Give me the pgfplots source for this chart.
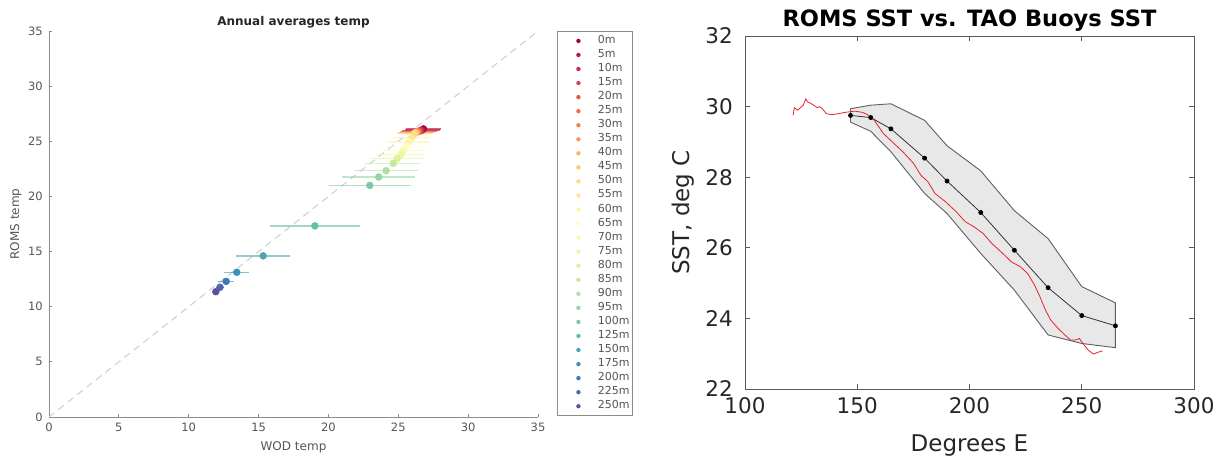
\documentclass[border=0pt]{standalone}
\usepackage{pgfplots}
\pgfplotsset{compat=1.18}
\usepackage{pgfplotstable}
\usepackage{fontspec}
\setmainfont{DejaVu Sans}

% Spectral ramp, one colour per depth level (0 m ... 250 m)
\definecolor{d0}{RGB}{158,1,66}
\definecolor{d1}{RGB}{179,24,71}
\definecolor{d2}{RGB}{200,48,76}
\definecolor{d3}{RGB}{218,69,77}
\definecolor{d4}{RGB}{230,87,73}
\definecolor{d5}{RGB}{242,105,68}
\definecolor{d6}{RGB}{247,129,76}
\definecolor{d7}{RGB}{250,154,88}
\definecolor{d8}{RGB}{253,178,100}
\definecolor{d9}{RGB}{253,197,116}
\definecolor{d10}{RGB}{254,216,133}
\definecolor{d11}{RGB}{254,231,151}
\definecolor{d12}{RGB}{255,243,171}
\definecolor{d13}{RGB}{255,255,191}
\definecolor{d14}{RGB}{245,251,176}
\definecolor{d15}{RGB}{236,247,161}
\definecolor{d16}{RGB}{221,241,154}
\definecolor{d17}{RGB}{198,232,158}
\definecolor{d18}{RGB}{176,223,163}
\definecolor{d19}{RGB}{150,213,164}
\definecolor{d20}{RGB}{123,202,165}
\definecolor{d21}{RGB}{98,190,167}
\definecolor{d22}{RGB}{78,167,176}
\definecolor{d23}{RGB}{58,145,185}
\definecolor{d24}{RGB}{60,123,183}
\definecolor{d25}{RGB}{77,101,172}
\definecolor{d26}{RGB}{94,79,162}

\definecolor{axisgray}{RGB}{140,140,140}
\definecolor{labelgray}{RGB}{85,85,85}
\definecolor{diaggray}{RGB}{205,205,205}
\definecolor{bandfill}{RGB}{232,232,232}
\definecolor{bandedge}{RGB}{95,95,95}
\definecolor{romsred}{RGB}{228,35,45}
\definecolor{boxgray}{RGB}{90,90,90}

% one depth level: colour, WOD mean, ROMS mean, WOD spread, legend text
\newcommand{\depthpoint}[5]{%
  \addplot[only marks, mark=*, mark size=3.5pt, color=#1,
    mark options={solid, fill=#1, draw=#1},
    error bars/x dir=both, error bars/x explicit,
    error bars/error mark=none,
    error bars/error bar style={line width=1.3pt, draw=#1, opacity=0.6},
    legend image code/.code={%
      \path[draw=none, fill=none] (-19pt,0pt) -- (19pt,0pt);
      \fill[#1, draw=none] (0pt,0pt) circle (2.2pt);}]
    coordinates {(#2,#3) +- (#4,0)};
  \addlegendentry{#5}}

% TAO buoy mean SST along the equator
\pgfplotstableread{
lon sst
147 29.75
156 29.69
165 29.37
180 28.54
190 27.89
205 27.00
220 25.93
235 24.87
250 24.08
265 23.79
}\taomean

% TAO spread envelope (upper edge east-going, lower edge back west)
\pgfplotstableread{
lon sst
147 29.94
156 30.04
165 30.08
180 29.61
190 28.89
205 28.18
220 27.05
235 26.26
250 24.90
265 24.44
265 23.17
250 23.29
235 23.53
220 24.80
205 25.84
190 26.97
180 27.54
165 28.72
156 29.30
147 29.56
147 29.94
}\taoband

% ROMS SST along the equator
\pgfplotstableread{
lon sst
121.4 29.75
122.0 29.97
123.3 29.90
124.8 29.97
126.0 30.05
127.1 30.22
127.9 30.13
129.0 30.10
130.6 30.04
132.2 29.97
133.2 30.00
134.6 29.93
136.2 29.80
138.6 29.77
141.7 29.80
144.9 29.84
148.9 29.87
152.1 29.84
154.4 29.78
157.6 29.61
161.6 29.24
165.6 29.00
170.3 28.72
175.1 28.39
178.3 28.06
181.5 27.87
184.6 27.54
189.4 27.30
194.1 27.02
198.1 26.74
202.1 26.59
206.0 26.41
210.0 26.12
214.8 25.84
218.7 25.60
222.7 25.46
225.9 25.27
229.0 24.94
231.4 24.61
233.8 24.24
236.2 23.95
239.4 23.72
242.5 23.53
244.9 23.39
247.3 23.39
248.9 23.43
250.5 23.29
252.9 23.10
255.2 22.99
256.8 23.03
259.2 23.08
}\romssst

\begin{document}
\begin{tikzpicture}
\useasboundingbox (0pt,0pt) rectangle (1221pt,457pt);

% ---------------- left panel: WOD vs ROMS by depth ----------------
\begin{axis}[
  at={(49pt,40pt)}, anchor=south west,
  scale only axis, width=489pt, height=386pt,
  xmin=0, xmax=35, ymin=0, ymax=35,
  axis x line*=bottom, axis y line*=left,
  axis line style={draw=axisgray, line width=0.9pt},
  tick align=inside, major tick length=3pt,
  tick style={draw=axisgray, line width=0.9pt},
  xtick={0,5,...,35}, ytick={0,5,...,35},
  /pgf/number format/assume math mode=true,
  ticklabel style={font=\fontsize{11.5}{12}\selectfont, text=labelgray, inner sep=3pt},
  xticklabel style={yshift=-3pt},
  yticklabel style={xshift=-3pt},
  xlabel={WOD temp}, ylabel={ROMS temp},
  label style={font=\fontsize{12}{13}\selectfont, text=labelgray},
  xlabel style={at={(axis description cs:0.5,0)}, anchor=center, yshift=-30pt},
  ylabel style={at={(axis description cs:0,0.5)}, anchor=center, yshift=33pt},
  title={Annual averages temp},
  title style={font=\bfseries\fontsize{12}{13}\selectfont, text=black!85,
    at={(axis description cs:0.5,1)}, anchor=center, yshift=3pt},
  legend style={at={(axis description cs:1.0389,1)}, anchor=north west,
    draw=axisgray, line width=0.8pt, fill=white,
    inner xsep=2pt, inner ysep=2.5pt, row sep=0pt, column sep=0pt,
    font=\fontsize{11}{12}\selectfont, text=labelgray,
    nodes={inner xsep=0.5pt, inner ysep=2pt, text height=7.5pt, text depth=2.55pt}},
  legend cell align=left,
  clip=false,
]
\addplot[diaggray, line width=1pt, dash pattern=on 7pt off 5pt, forget plot]
  coordinates {(0,0) (35,35)};
\depthpoint{d0}{26.80}{26.12}{1.25}{0m}
\depthpoint{d1}{26.70}{26.02}{1.25}{5m}
\depthpoint{d2}{26.60}{25.97}{1.25}{10m}
\depthpoint{d3}{26.50}{25.93}{1.25}{15m}
\depthpoint{d4}{26.45}{25.90}{1.25}{20m}
\depthpoint{d5}{26.40}{25.88}{1.20}{25m}
\depthpoint{d6}{26.35}{25.85}{1.20}{30m}
\depthpoint{d7}{26.30}{25.82}{1.20}{35m}
\depthpoint{d8}{26.25}{25.80}{1.20}{40m}
\depthpoint{d9}{26.20}{25.75}{1.20}{45m}
\depthpoint{d10}{26.15}{25.70}{1.25}{50m}
\depthpoint{d11}{25.94}{25.33}{1.30}{55m}
\depthpoint{d12}{25.77}{24.94}{1.40}{60m}
\depthpoint{d13}{25.59}{24.55}{1.50}{65m}
\depthpoint{d14}{25.38}{24.18}{1.60}{70m}
\depthpoint{d15}{25.18}{23.79}{1.75}{75m}
\depthpoint{d16}{24.92}{23.42}{1.90}{80m}
\depthpoint{d17}{24.64}{23.00}{2.00}{85m}
\depthpoint{d18}{24.13}{22.33}{2.30}{90m}
\depthpoint{d19}{23.60}{21.76}{2.60}{95m}
\depthpoint{d20}{22.96}{21.00}{2.93}{100m}
\depthpoint{d21}{19.03}{17.33}{3.20}{125m}
\depthpoint{d22}{15.33}{14.61}{1.94}{150m}
\depthpoint{d23}{13.44}{13.12}{0.88}{175m}
\depthpoint{d24}{12.68}{12.30}{0.55}{200m}
\depthpoint{d25}{12.24}{11.76}{0.30}{225m}
\depthpoint{d26}{11.94}{11.36}{0.20}{250m}
\end{axis}

% ---------------- right panel: equatorial SST ----------------
\begin{axis}[
  at={(745pt,68pt)}, anchor=south west,
  scale only axis, width=449pt, height=353pt,
  xmin=100, xmax=300, ymin=22, ymax=32,
  xtick={100,150,...,300}, ytick={22,24,...,32},
  axis line style={draw=boxgray, line width=0.9pt},
  tick align=inside, major tick length=5pt,
  tick style={draw=boxgray, line width=0.9pt},
  /pgf/number format/assume math mode=true,
  ticklabel style={font=\fontsize{21.5}{22}\selectfont, text=black!85, inner sep=3pt},
  xticklabel style={yshift=-5pt},
  yticklabel style={xshift=-9pt},
  xlabel={Degrees E}, ylabel={SST, deg C},
  label style={font=\fontsize{23}{24}\selectfont, text=black!85},
  xlabel style={at={(axis description cs:0.5,0)}, anchor=center, yshift=-57pt},
  ylabel style={at={(axis description cs:0,0.5)}, anchor=center, yshift=62pt},
  title={ROMS SST vs. TAO Buoys SST},
  title style={font=\bfseries\fontsize{22.5}{24}\selectfont, text=black,
    at={(axis description cs:0.5,1)}, anchor=center, yshift=9pt},
]
\addplot[fill=bandfill, draw=bandedge, line width=0.9pt] table[x=lon, y=sst] {\taoband};
\addplot[black!80, line width=0.8pt, mark=*, mark size=2pt,
  mark options={fill=black, draw=black}] table[x=lon, y=sst] {\taomean};
\addplot[romsred, line width=0.8pt] table[x=lon, y=sst] {\romssst};
\end{axis}
\end{tikzpicture}
\end{document}
